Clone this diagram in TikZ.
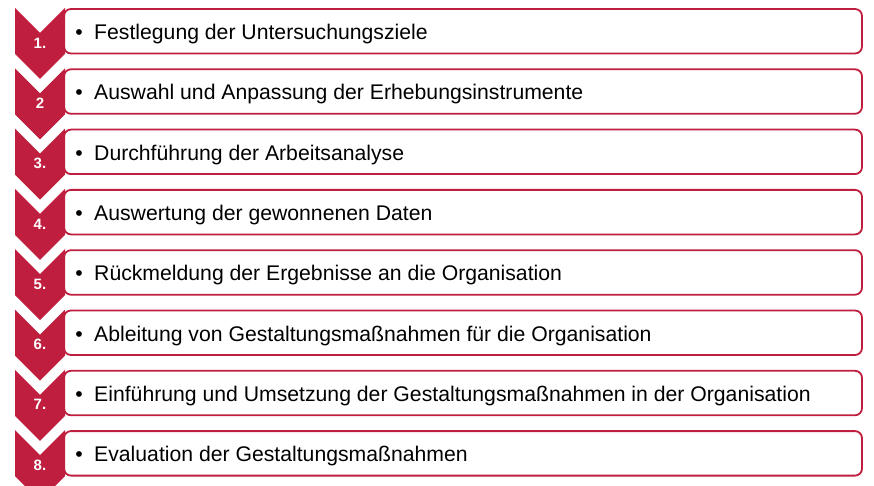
\documentclass[tikz,border=0pt]{standalone}
\usepackage{fontspec}
\setmainfont{Liberation Sans}
\definecolor{crim}{RGB}{192,30,62}
\tikzset{
  listbox/.style={draw=crim, line width=1.8pt, rounded corners=7pt, fill=white},
  chev/.style={fill=crim, draw=none},
  numtext/.style={text=white, font=\fontsize{15}{17}\selectfont\bfseries, inner sep=0pt},
  itemtext/.style={anchor=base west, font=\fontsize{21.2}{24}\selectfont, inner sep=0pt, text=black},
  bullettext/.style={anchor=base, font=\fontsize{21.2}{24}\selectfont, inner sep=0pt, text=black},
}
\begin{document}
\begin{tikzpicture}[x=1pt,y=-1pt]
\useasboundingbox (0,0) rectangle (874,486);
\foreach \i/\n/\t in {0/1./Festlegung der Untersuchungsziele,
  1/2/Auswahl und Anpassung der Erhebungsinstrumente,
  2/3./Durchführung der Arbeitsanalyse,
  3/4./Auswertung der gewonnenen Daten,
  4/5./Rückmeldung der Ergebnisse an die Organisation,
  5/6./Ableitung von Gestaltungsmaßnahmen für die Organisation,
  6/7./Einführung und Umsetzung der Gestaltungsmaßnahmen in der Organisation,
  7/8./Evaluation der Gestaltungsmaßnahmen}{
  \pgfmathsetmacro{\yt}{8+60.3*\i}
  \draw[listbox] (64,\yt+1) rectangle (862,\yt+45.5);
  \fill[chev] (15,\yt) -- (40,\yt+25) -- (65,\yt) -- (65,\yt+46) -- (40,\yt+71) -- (15,\yt+46) -- cycle;
  \node[numtext] (num\i) at (40,\yt+35) {\n};
  \node[bullettext] (bul\i) at (79,\yt+31.5) {•};
  \node[itemtext] (item\i) at (94,\yt+31.5) {\t};
}
\end{tikzpicture}
\end{document}
